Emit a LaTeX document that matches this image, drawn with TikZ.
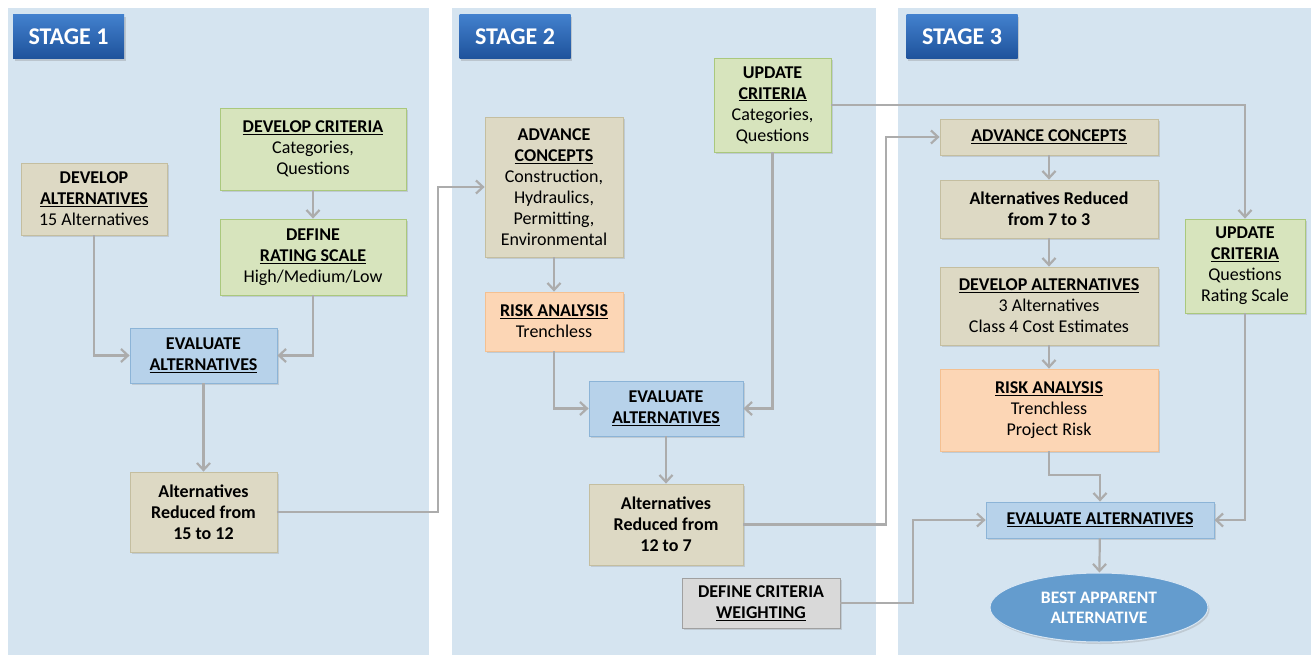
\documentclass[tikz,border=0pt]{standalone}
\usepackage{fontspec}
\setmainfont{Carlito}
\usepackage{tikz}
\usetikzlibrary{arrows.meta,shapes.geometric,shadows}

\definecolor{panelbg}{RGB}{213,228,240}
\definecolor{tanfill}{RGB}{221,217,196}
\definecolor{tanline}{RGB}{196,190,160}
\definecolor{greenfill}{RGB}{215,228,189}
\definecolor{greenline}{RGB}{170,200,125}
\definecolor{bluefill}{RGB}{183,210,234}
\definecolor{blueline}{RGB}{140,180,215}
\definecolor{orangefill}{RGB}{252,214,181}
\definecolor{orangeline}{RGB}{244,192,145}
\definecolor{grayfill}{RGB}{217,217,217}
\definecolor{grayline}{RGB}{160,160,160}
\definecolor{bestfill}{RGB}{100,156,206}
\definecolor{stagetop}{RGB}{66,128,205}
\definecolor{stagebot}{RGB}{30,82,155}
\definecolor{arcgray}{RGB}{172,172,172}

\newcommand{\uhead}[1]{\underline{\textbf{#1}}}

\begin{document}
\begin{tikzpicture}[x=1pt,y=-1pt]

\tikzset{box/.style = {rectangle, draw, line width=0.8pt, align=center, inner sep=2pt,
  font=\fontsize{18}{21}\selectfont,
  drop shadow={shadow xshift=1.5pt,shadow yshift=-2pt,opacity=0.25}}}
\tikzset{tanbox/.style = {box, fill=tanfill, draw=tanline}}
\tikzset{greenbox/.style = {box, fill=greenfill, draw=greenline}}
\tikzset{evalbox/.style = {box, fill=bluefill, draw=blueline}}
\tikzset{riskbox/.style = {box, fill=orangefill, draw=orangeline}}
\tikzset{graybox/.style = {box, fill=grayfill, draw=grayline}}
\tikzset{stagebox/.style = {rectangle, top color=stagetop, bottom color=stagebot, draw=none,
  text=white, font=\fontsize{24}{28}\selectfont\bfseries,
  minimum width=111pt, minimum height=44pt,
  drop shadow={shadow xshift=1.5pt,shadow yshift=-2pt,opacity=0.3}}}
\tikzset{arc/.style = {-{Straight Barb[length=7pt,width=13pt]}, draw=arcgray, line width=2.2pt}}

\useasboundingbox (0,0) rectangle (1311,655);

% panels
\fill[panelbg] (8,8) rectangle (429,655);
\fill[panelbg] (452,8) rectangle (876,655);
\fill[panelbg] (898,8) rectangle (1311,655);

% stage labels
\node[stagebox] (s1) at (68.5,37) {STAGE 1};
\node[stagebox] (s2) at (515,37) {STAGE 2};
\node[stagebox] (s3) at (962,37) {STAGE 3};

% stage 1
\node[tanbox, minimum width=146pt, minimum height=72pt] (dalt) at (94,199)
  {\textbf{DEVELOP}\\\uhead{ALTERNATIVES}\\15 Alternatives};
\node[greenbox, minimum width=186pt, minimum height=82pt] (dcrit) at (313,149)
  {\uhead{DEVELOP CRITERIA}\\Categories,\\Questions};
\node[greenbox, minimum width=186pt, minimum height=76pt] (dscale) at (313,257)
  {\textbf{DEFINE}\\\uhead{RATING SCALE}\\High/Medium/Low};
\node[evalbox, minimum width=147pt, minimum height=55pt] (evalA) at (203.5,355.5)
  {\textbf{EVALUATE}\\\uhead{ALTERNATIVES}};
\node[tanbox, minimum width=147pt, minimum height=80pt] (redA) at (203.5,512)
  {\textbf{Alternatives}\\\textbf{Reduced from}\\\textbf{15 to 12}};

% stage 2
\node[tanbox, minimum width=138pt, minimum height=140pt] (advB) at (554,187)
  {\textbf{ADVANCE}\\\uhead{CONCEPTS}\\Construction,\\Hydraulics,\\Permitting,\\Environmental};
\node[riskbox, minimum width=138pt, minimum height=59pt] (riskB) at (554,321.5)
  {\uhead{RISK ANALYSIS}\\Trenchless};
\node[greenbox, minimum width=117pt, minimum height=94pt] (updB) at (772.5,105)
  {\textbf{UPDATE}\\\uhead{CRITERIA}\\Categories,\\Questions};
\node[evalbox, minimum width=154pt, minimum height=55pt] (evalB) at (666,408.5)
  {\textbf{EVALUATE}\\\uhead{ALTERNATIVES}};
\node[tanbox, minimum width=154pt, minimum height=81pt] (redB) at (666,524.5)
  {\textbf{Alternatives}\\\textbf{Reduced from}\\\textbf{12 to 7}};
\node[graybox, minimum width=158pt, minimum height=50pt] (weightB) at (761,603)
  {\textbf{DEFINE CRITERIA}\\\uhead{WEIGHTING}};

% stage 3
\node[tanbox, minimum width=218pt, minimum height=36pt] (advC) at (1049,137)
  {\uhead{ADVANCE CONCEPTS}};
\node[tanbox, minimum width=218pt, minimum height=58pt] (redC) at (1049,209)
  {\textbf{Alternatives Reduced}\\\textbf{from 7 to 3}};
\node[tanbox, minimum width=218pt, minimum height=78pt] (devC) at (1049,306)
  {\uhead{DEVELOP ALTERNATIVES}\\3 Alternatives\\Class 4 Cost Estimates};
\node[riskbox, minimum width=218pt, minimum height=82pt] (riskC) at (1049,410)
  {\uhead{RISK ANALYSIS}\\Trenchless\\Project Risk};
\node[greenbox, minimum width=120pt, minimum height=94pt] (updC) at (1245,266)
  {\textbf{UPDATE}\\\uhead{CRITERIA}\\Questions\\Rating Scale};
\node[evalbox, minimum width=228pt, minimum height=36pt] (evalC) at (1100,520)
  {\uhead{EVALUATE ALTERNATIVES}};
\node[ellipse, fill=bestfill, draw=white!75!bestfill, line width=1pt, text=white,
  align=center, font=\fontsize{17.5}{20}\selectfont\bfseries,
  minimum width=218pt, minimum height=69pt,
  drop shadow={shadow xshift=1.5pt,shadow yshift=-2pt,opacity=0.25}] (best) at (1099,607.5)
  {BEST APPARENT\\ALTERNATIVE};

% bends
\coordinate (c1) at (438,0);
\coordinate (c2) at (886,0);
\coordinate (c3) at (913,0);
\coordinate (c4) at (1100,475);

% arcs stage 1
\draw[arc] (dcrit) to (dscale);
\draw[arc] (dalt.south) |- (evalA.west);
\draw[arc] (dscale.south) |- (evalA.east);
\draw[arc] (evalA) to (redA);
\draw[arc] (redA.east) -- (redA.east -| c1) |- (advB.west);

% arcs stage 2
\draw[arc] (advB) to (riskB);
\draw[arc] (riskB.south) |- (evalB.west);
\draw[arc] (updB.south) |- (evalB.east);
\draw[arc] (evalB) to (redB);
\draw[arc] (redB.east) -- (redB.east -| c2) |- (advC.west);
\draw[arc] (updB.east) -| (updC.north);
\draw[arc] (weightB.east) -- (weightB.east -| c3) |- (evalC.west);

% arcs stage 3
\draw[arc] (advC) to (redC);
\draw[arc] (redC) to (devC);
\draw[arc] (devC) to (riskC);
\draw[arc] (riskC.south) |- (c4) -- (evalC.north);
\draw[arc] (updC.south) |- (evalC.east);
\draw[arc] (evalC) to (best);

\end{tikzpicture}
\end{document}
